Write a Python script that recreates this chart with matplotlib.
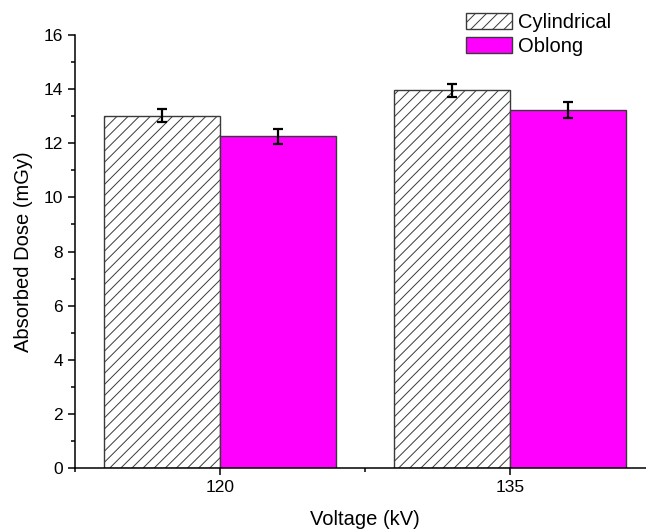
import numpy as np
import matplotlib
matplotlib.use("Agg")
import matplotlib.pyplot as plt
from matplotlib.ticker import MultipleLocator, FixedLocator

plt.rcParams['font.family'] = ['Liberation Sans', 'DejaVu Sans']
plt.rcParams['hatch.linewidth'] = 0.7

# data
voltages = ["120", "135"]
series = ["Cylindrical", "Oblong"]
cyl_dose = [13.02, 13.95]
cyl_err = [0.25, 0.23]
obl_dose = [12.26, 13.22]
obl_err = [0.28, 0.29]

fig = plt.figure(figsize=(6.46, 5.32), dpi=100)
ax = fig.add_axes([75 / 646, 1 - 468 / 532, 580 / 646, 433 / 532])

x = np.arange(len(voltages))
w = 0.4
err_kw = dict(ecolor='black', elinewidth=1.6, capsize=3.5, capthick=1.6)

ax.bar(x - w / 2, cyl_dose, w, yerr=cyl_err, facecolor='white',
       edgecolor='#3a3a3a', hatch='///', linewidth=1.0, label=series[0],
       error_kw=err_kw, zorder=2)
ax.bar(x + w / 2, obl_dose, w, yerr=obl_err, facecolor='#ff00ff',
       edgecolor='#3a3a3a', linewidth=1.0, label=series[1],
       error_kw=err_kw, zorder=2)

ax.set_xlim(-0.5, 1.5)
ax.set_ylim(0, 16)
ax.set_xticks(x)
ax.set_xticklabels(voltages)
ax.xaxis.set_minor_locator(FixedLocator([-0.5, 0.5, 1.5]))
ax.yaxis.set_major_locator(MultipleLocator(2))
ax.yaxis.set_minor_locator(MultipleLocator(1))

for side in ['top', 'right']:
    ax.spines[side].set_visible(False)
for side in ['left', 'bottom']:
    ax.spines[side].set_linewidth(1.1)

ax.tick_params(which='major', direction='out', length=5, width=1.1,
               labelsize=12.5, pad=3.5)
ax.tick_params(which='minor', direction='out', length=2.8, width=1.1)

ax.set_xlabel("Voltage (kV)", fontsize=14.5, labelpad=11)
ax.set_ylabel("Absorbed Dose (mGy)", fontsize=14.5, labelpad=8)

ax.legend(loc='upper left', bbox_to_anchor=(466 / 646, 1 - 13 / 532),
          bbox_transform=fig.transFigure, frameon=False, fontsize=14.5,
          handlelength=2.3, handleheight=0.85, handletextpad=0.3,
          labelspacing=0.25, borderpad=0, borderaxespad=0)

fig.savefig("out.png", dpi=100)
